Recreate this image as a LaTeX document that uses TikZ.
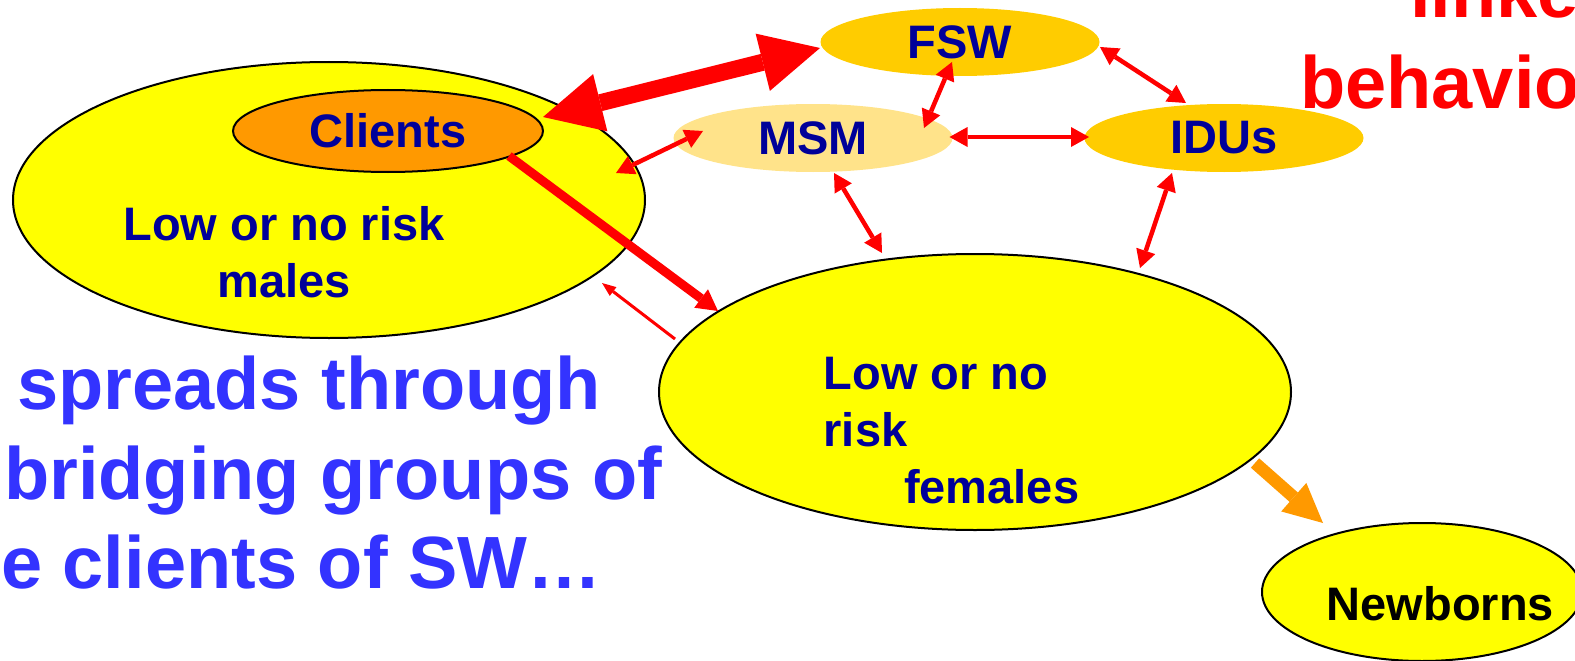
\documentclass[tikz,border=0pt]{standalone}
\usepackage{fontspec}
\setmainfont{Liberation Sans}
\usetikzlibrary{shapes.geometric,arrows.meta,calc}
\definecolor{ylw}{HTML}{FFFF00}
\definecolor{clientor}{HTML}{FF9900}
\definecolor{gold}{HTML}{FFCC00}
\definecolor{msmfill}{HTML}{FFE38A}
\definecolor{navy}{HTML}{000099}
\definecolor{bigblue}{HTML}{3333FF}
\definecolor{rd}{HTML}{FF0000}
\begin{document}
\begin{tikzpicture}[x=1pt,y=-1pt,
  blob/.style={ellipse,inner sep=0pt,outer sep=0pt},
  bordered/.style={blob,draw=black,line width=2pt,fill=ylw},
  grp/.style={blob,minimum width=279pt,minimum height=68pt,fill=gold},
  lbl/.style={font=\bfseries\fontsize{47}{57}\selectfont,text=navy,inner sep=0pt},
  big/.style={font=\bfseries\fontsize{74}{89}\selectfont,inner sep=0pt,anchor=base west},
  dbl/.style={draw=rd,line width=4.5pt,{Triangle[length=18pt,width=20pt,line width=0pt]}-{Triangle[length=18pt,width=20pt,line width=0pt]}},
  bigdbl/.style={draw=rd,line width=17pt,{Triangle[length=59pt,width=59pt,line width=0pt]}-{Triangle[length=59pt,width=59pt,line width=0pt]}},
  thickarr/.style={draw=rd,line width=9pt,-{Triangle[length=21pt,width=23pt,line width=0pt]}},
  thinarr/.style={draw=rd,line width=3pt,-{Triangle[length=14pt,width=11pt,line width=0pt]}},
  orarr/.style={draw=clientor,line width=12.5pt,-{Triangle[length=39pt,width=38pt,line width=0pt]}}
]
\useasboundingbox (0,0) rectangle (1575,661);
% ellipses
\node[bordered,minimum width=632pt,minimum height=276pt] (males) at (329,200) {};
\node[bordered,fill=clientor,minimum width=310pt,minimum height=82pt,lbl] (clients) at (388,131) {Clients};
\node[bordered,minimum width=632pt,minimum height=276pt] (females) at (975,392) {};
\node[bordered,minimum width=320pt,minimum height=138pt] (newborns) at (1422,592) {};
\node[grp,lbl] (fsw) at (960,42) {FSW};
\node[grp,lbl,fill=msmfill] (msm) at (813,138) {MSM};
\node[grp,lbl] (idus) at (1224,138) {IDUs};
% texts inside big ellipses (anchor base = baseline of the last line)
\node[lbl,align=center,anchor=base] (malestxt) at (284,297) {Low or no risk\\males};
\node[lbl,align=left,anchor=base west] (femalestxt) at (823.5,503) {Low or no\\risk\\\hspace*{80.5pt}females};
\node[lbl,text=black,anchor=base west] (newbornstxt) at (1326.6,620) {Newborns};
% connectors
\draw[bigdbl] ($(clients)+(155,-14)$) -- ($(fsw)+(-140,6)$);
\draw[thickarr] ($(clients)+(121,25)$) -- ($(females)+(-257,-81)$);
\draw[thinarr] ($(females)+(-300,-53)$) -- ($(males)+(273,83)$);
\draw[dbl] ($(msm)+(-110,-7)$) -- ($(males)+(287,-27)$);
\draw[dbl] ($(fsw)+(-8,20)$) -- ($(msm)+(111,-10)$);
\draw[dbl] ($(msm)+(136.5,-1)$) -- ($(idus)+(-135,-1)$);
\draw[dbl] ($(fsw)+(140,5)$) -- ($(idus)+(-38,-35)$);
\draw[dbl] ($(msm)+(21,35)$) -- ($(females)+(-93,-139)$);
\draw[dbl] ($(idus)+(-52,35)$) -- ($(females)+(165,-124)$);
\draw[orarr] ($(females)+(280,71)$) -- ($(newborns)+(-99,-69)$);
% big texts
\node[big,text=bigblue] (t1) at (17,409) {spreads through};
\node[big,text=bigblue] (t2) at (4,499) {bridging groups of};
\node[big,text=bigblue] (t3) at (1,588) {e clients of SW…};
\node[big,text=rd] (r1) at (1410,18) {linke};
\node[big,text=rd] (r2) at (1300,108) {behavio};
\end{tikzpicture}
\end{document}
